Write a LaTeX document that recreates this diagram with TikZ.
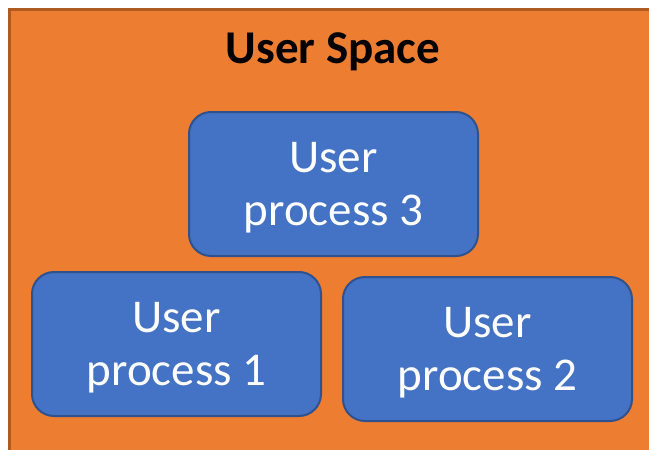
\documentclass[tikz,border=0pt]{standalone}
\usepackage{fontspec}
\setmainfont{Carlito}
\definecolor{spaceorange}{HTML}{ED7D31}
\definecolor{spaceedge}{HTML}{AE5A21}
\definecolor{procblue}{HTML}{4472C4}
\definecolor{procedge}{HTML}{2F528F}
\tikzset{
  procbox/.style={draw=procedge, fill=procblue, line width=2pt,
    rounded corners=22pt, minimum width=289pt, minimum height=144pt,
    inner sep=0pt},
  proctext/.style={anchor=base, text=white, inner sep=0pt,
    font=\fontsize{47}{52}\selectfont},
  titletext/.style={anchor=base, text=black, inner sep=0pt,
    font=\fontsize{47}{52}\selectfont\bfseries}
}
\begin{document}
\begin{tikzpicture}[x=1pt, y=-1pt]
  \useasboundingbox (0,0) rectangle (649,450);
  % background region
  \fill[white] (0,0) rectangle (649,450);
  \draw[spaceedge, fill=spaceorange, line width=2.5pt] (9.5,9.5) rectangle (670,470);
  \node[titletext] (title) at (333,63) {User Space};
  % processes
  \node[procbox] (p3) at (333.5,184) {};
  \node[proctext] (p3a) at (333.5,172) {User};
  \node[proctext] (p3b) at (333.5,225) {process 3};
  \node[procbox] (p1) at (176.5,344) {};
  \node[proctext] (p1a) at (176.5,332) {User};
  \node[proctext] (p1b) at (176.5,385) {process 1};
  \node[procbox] (p2) at (487.5,349) {};
  \node[proctext] (p2a) at (487.5,337) {User};
  \node[proctext] (p2b) at (487.5,390) {process 2};
\end{tikzpicture}
\end{document}
